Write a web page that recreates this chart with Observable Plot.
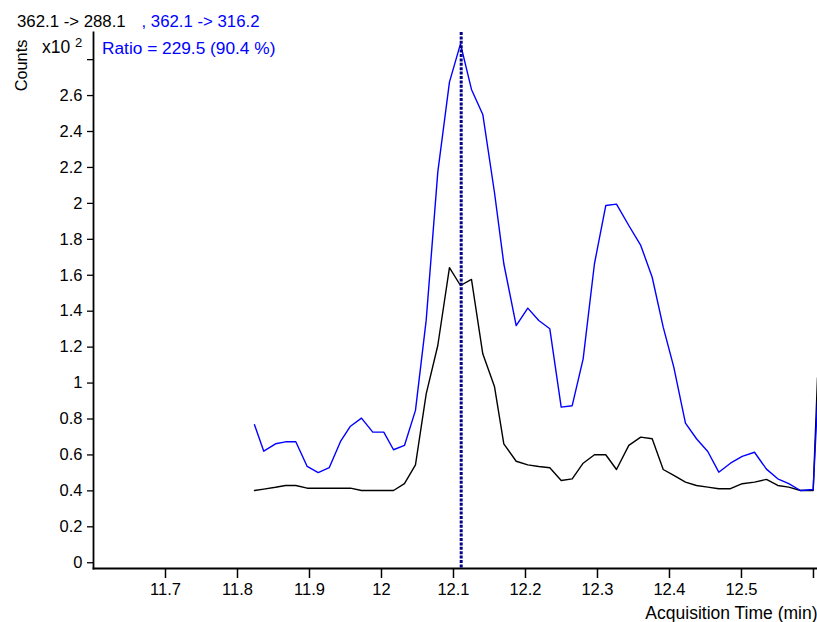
<!DOCTYPE html>
<html>
<head>
<meta charset="utf-8">
<script src="https://cdn.jsdelivr.net/npm/d3@7"></script>
<script src="https://cdn.jsdelivr.net/npm/@observablehq/plot@0.6"></script>
<style>
  html, body { margin: 0; padding: 0; background: #fff; }
  #chart { width: 817px; height: 622px; }
</style>
</head>
<body>
<div id="chart"></div>
<script>
// Acquisition times (min)
const times = [
  11.8236, 11.8365, 11.8528, 11.8667, 11.8810, 11.8968, 11.9121, 11.9274, 11.9431, 11.9569,
  11.9722, 11.9879, 12.0032, 12.0167, 12.0319, 12.0472, 12.0621, 12.0782, 12.0944, 12.1097,
  12.1250, 12.1407, 12.1569, 12.1699, 12.1871, 12.2032, 12.2185, 12.2338, 12.2496, 12.2649,
  12.2801, 12.2958, 12.3115, 12.3264, 12.3435, 12.3601, 12.3760, 12.3913, 12.4060, 12.4222,
  12.4375, 12.4532, 12.4685, 12.4847, 12.5010, 12.5181, 12.5347, 12.5504, 12.5657, 12.5819,
  12.5996, 12.6056
];
// 362.1 -> 288.1 (black), counts x10^2
const quant = [
  0.402, 0.410, 0.420, 0.430, 0.430, 0.415, 0.415, 0.415, 0.415, 0.415,
  0.402, 0.402, 0.402, 0.402, 0.440, 0.545, 0.940, 1.209, 1.642, 1.543,
  1.577, 1.163, 0.981, 0.662, 0.565, 0.545, 0.536, 0.529, 0.458, 0.467,
  0.554, 0.601, 0.601, 0.519, 0.653, 0.699, 0.690, 0.519, 0.486, 0.449,
  0.430, 0.421, 0.412, 0.412, 0.440, 0.449, 0.464, 0.430, 0.421, 0.402,
  0.402, 1.030
];
// 362.1 -> 316.2 (blue), counts x10^2
const qual = [
  0.768, 0.621, 0.662, 0.673, 0.673, 0.536, 0.502, 0.529, 0.675, 0.760,
  0.805, 0.727, 0.727, 0.629, 0.653, 0.848, 1.350, 2.174, 2.675, 2.888,
  2.634, 2.495, 2.062, 1.664, 1.320, 1.417, 1.348, 1.302, 0.866, 0.874,
  1.135, 1.664, 1.988, 1.996, 1.877, 1.766, 1.589, 1.311, 1.089, 0.777,
  0.690, 0.619, 0.504, 0.554, 0.592, 0.615, 0.521, 0.467, 0.440, 0.402,
  0.408, 0.900
];
const markerTime = [12.1107];

const xTicks = [11.7, 11.8, 11.9, 12.0, 12.1, 12.2, 12.3, 12.4, 12.5, 12.6];
const xTickLabels = ["11.7", "11.8", "11.9", "12", "12.1", "12.2", "12.3", "12.4", "12.5", ""];
const yTicks = [0, 0.2, 0.4, 0.6, 0.8, 1.0, 1.2, 1.4, 1.6, 1.8, 2.0, 2.2, 2.4, 2.6, 2.8];
const yTickLabels = ["0", "0.2", "0.4", "0.6", "0.8", "1", "1.2", "1.4", "1.6", "1.8", "2", "2.2", "2.4", "2.6", ""];

const headerQuant = ["362.1 -> 288.1"];
const headerQual = [", 362.1 -> 316.2"];
const ratioText = ["Ratio = 229.5 (90.4 %)"];
const yLabel = ["Counts"];
const yMult = ["x10"];
const yExp = ["2"];
const xLabel = ["Acquisition Time (min)"];

const quantData = times.map((t, i) => ({t, v: quant[i]}));
const qualData = times.map((t, i) => ({t, v: qual[i]}));

const BLUE = "#0000ff";
const NAVY = "#00008b";

const chart = Plot.plot({
  width: 817,
  height: 622,
  marginTop: 32,
  marginLeft: 93,
  marginRight: 0,
  marginBottom: 54,
  style: { fontFamily: "'Liberation Sans', Arial, sans-serif", fontSize: "16.5px", color: "#000", background: "#fff", overflow: "visible" },
  x: { domain: [11.6, 12.6056] },
  y: { domain: [-0.032, 2.951] },
  marks: [
    Plot.axisX({ ticks: xTicks, tickFormat: (d, i) => xTickLabels[i], tickSize: 10, tickPadding: 5, label: null, stroke: "#000", strokeWidth: 1.5, strokeOpacity: 1, fontSize: 16.5 }),
    Plot.axisY({ ticks: yTicks, tickFormat: (d, i) => yTickLabels[i], tickSize: 6, tickPadding: 5, label: null, stroke: "#000", strokeWidth: 1.3, strokeOpacity: 1, fontSize: 16.5 }),
    Plot.frame({ anchor: "bottom", stroke: "#000", strokeWidth: 1.8 }),
    Plot.frame({ anchor: "left", stroke: "#000", strokeWidth: 1.8 }),
    Plot.line(quantData, { x: "t", y: "v", stroke: "#000", strokeWidth: 1.4 }),
    Plot.line(qualData, { x: "t", y: "v", stroke: BLUE, strokeWidth: 1.4 }),
    Plot.ruleX(markerTime, { stroke: NAVY, strokeWidth: 3, strokeDasharray: "3,1.4" }),
    Plot.text(headerQuant, { text: d => d, frameAnchor: "top-left", dx: -76.5, dy: -11, textAnchor: "start", lineAnchor: "middle", fill: "#000", fontSize: 16.8 }),
    Plot.text(headerQual, { text: d => d, frameAnchor: "top-left", dx: 48, dy: -11, textAnchor: "start", lineAnchor: "middle", fill: BLUE, fontSize: 16.8 }),
    Plot.text(ratioText, { text: d => d, frameAnchor: "top-left", dx: 8.5, dy: 15.5, textAnchor: "start", lineAnchor: "middle", fill: BLUE, fontSize: 17.3 }),
    Plot.text(yLabel, { text: d => d, frameAnchor: "top-left", dx: -72, dy: 33, rotate: -90, textAnchor: "middle", lineAnchor: "middle", fill: "#000", fontSize: 16.3 }),
    Plot.text(yMult, { text: d => d, frameAnchor: "top-left", dx: -51.5, dy: 14.5, textAnchor: "start", lineAnchor: "middle", fill: "#000", fontSize: 17.5 }),
    Plot.text(yExp, { text: d => d, frameAnchor: "top-left", dx: -18.5, dy: 10, textAnchor: "start", lineAnchor: "middle", fill: "#000", fontSize: 13 }),
    Plot.text(xLabel, { text: d => d, frameAnchor: "bottom-right", dx: 0, dy: 45, textAnchor: "end", lineAnchor: "middle", fill: "#000", fontSize: 17.5 })
  ]
});

document.getElementById("chart").appendChild(chart);
</script>
</body>
</html>
